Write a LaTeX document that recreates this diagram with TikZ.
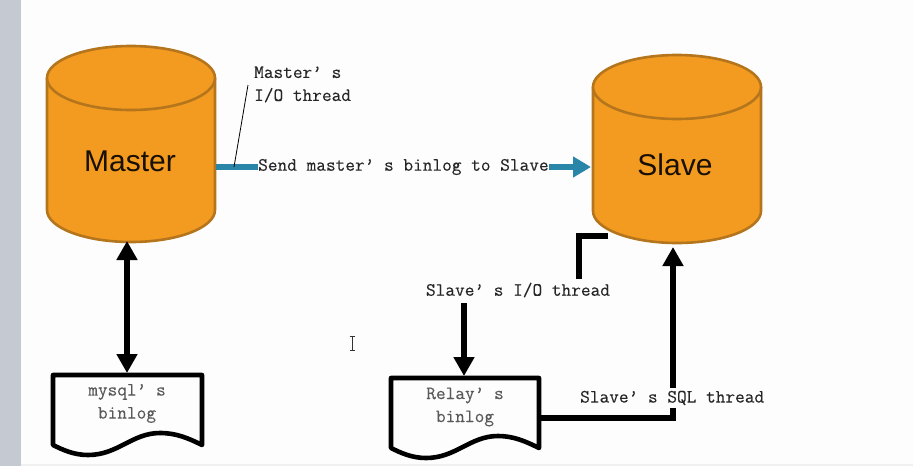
\documentclass[tikz,border=0pt]{standalone}
\usepackage{fontspec}
\setmainfont{Liberation Sans}
\newfontfamily\diagmono[FakeBold=0.2]{Latin Modern Mono}
\usetikzlibrary{arrows.meta}
\definecolor{cylfill}{HTML}{F39B20}
\definecolor{cyledge}{HTML}{B4751C}
\definecolor{flow}{HTML}{2A86A9}
\definecolor{band}{HTML}{C5C9D1}
\definecolor{paper}{HTML}{FDFDFD}
\tikzset{
  x=1pt,y=-1pt,
  cyl/.style={fill=cylfill,draw=cyledge,line width=2.6pt,line join=round},
  cyltext/.style={font=\fontsize{30}{30}\selectfont,text=black!90!cylfill,inner sep=0pt},
  mono/.style={font=\diagmono\fontsize{18.8}{23}\selectfont,align=left,inner sep=0pt,text=black!85},
  monogray/.style={mono,align=center,text=black!65},
  masked/.style={mono,fill=paper,inner xsep=2pt,inner ysep=3pt},
  docbox/.style={draw=black,fill=paper,line width=4.6pt,line join=round},
  thick arrow/.style={draw=black,line width=6.5pt,-{Triangle[length=19pt,width=20pt]}},
  both arrow/.style={draw=black,line width=6.5pt,{Triangle[length=19pt,width=20pt]}-{Triangle[length=19pt,width=20pt]}},
  plain thick/.style={draw=black,line width=6.5pt,line join=miter},
  flow line/.style={draw=flow,line width=6pt},
  flow arrow/.style={flow line,-{Triangle[length=18pt,width=20pt]}}
}
\newcommand{\cylinder}[3]{% left x, ellipse centre y, bottom side y
  \draw[cyl] (#1,#2) -- (#1,#3) arc[start angle=180,end angle=0,x radius=84,y radius=32] -- (#1+168,#2) -- cycle;
  \draw[cyl] (#1+84,#2) ellipse[x radius=84,y radius=32];
}
\begin{document}
\begin{tikzpicture}
\useasboundingbox (0,0) rectangle (913,466);
\fill[paper] (0,0) rectangle (913,466);
\fill[band] (0,0) rectangle (21,466);
\fill[black!6] (21,464) rectangle (913,466);

% cylinders
\cylinder{47}{78}{210}
\cylinder{593}{87}{211}
\node[cyltext] (master) at (130,161) {Master};
\node[cyltext] (slave) at (675,165) {Slave};
\coordinate (masterE) at (216,167);
\coordinate (masterS) at (127,241);
\coordinate (slaveW) at (591,167);
\coordinate (slaveS) at (673,247);
\coordinate (slaveSW) at (608,236);

% documents
\path[docbox] (53,375) -- (202,375) -- (202,445)
  .. controls (188,438) and (176,433) .. (160,433)
  .. controls (132,433) and (118,455) .. (88,455)
  .. controls (74,455) and (63,450) .. (53,445) -- cycle;
\path[docbox] (391,378) -- (539,378) -- (539,448)
  .. controls (525,441) and (513,436) .. (498,436)
  .. controls (470,436) and (456,458) .. (426,458)
  .. controls (412,458) and (401,453) .. (391,448) -- cycle;
\node[monogray] (mysqltext) at (127,403.5) {mysql’ s\\binlog};
\node[monogray] (relaytext) at (465,407) {Relay’ s\\binlog};
\coordinate (mysqlN) at (127,373);
\coordinate (relayN) at (464,376);
\coordinate (relayE) at (537,418);
\coordinate (sqlcorner) at (673,418);
\coordinate (sqlmid) at (673,400);
\coordinate (ioup) at (579,279);
\coordinate (iodown) at (464,303);
\coordinate (iocorner) at (579,236);

% connectors
\draw[both arrow] (masterS) -- (mysqlN);
\draw[plain thick,line cap=butt] (relayE) -- (sqlcorner) -- (sqlmid);
\draw[thick arrow] (sqlmid) -- (slaveS);

% labels
\node[masked,anchor=west] (sqllabel) at (578,398) {Slave’ s SQL thread};
\node[mono,anchor=center] (iolabel) at (518,290) {Slave’ s I/O thread};
\node[mono,anchor=west] (sendlabel) at (258,167) {Send master’ s binlog to Slave};
\node[mono,anchor=west] (mtlabel) at (254,84.5) {Master’ s\\I/O thread};

\draw[flow line] (masterE) -- (sendlabel.west);
\draw[flow arrow] (sendlabel.east) -- (slaveW);
\draw[plain thick] (ioup) -- (iocorner) -- (slaveSW);
\draw[thick arrow] (iodown) -- (relayN);
\coordinate (calloutTop) at (248,85);
\coordinate (calloutFoot) at (234,167);
\draw[black,line width=0.8pt] (calloutTop) -- (calloutFoot);

% text cursor
\draw[black!80,line width=0.7pt] (352,336) -- (352,350) (349.5,336) -- (354.5,336) (349.5,350) -- (354.5,350);
\end{tikzpicture}
\end{document}
